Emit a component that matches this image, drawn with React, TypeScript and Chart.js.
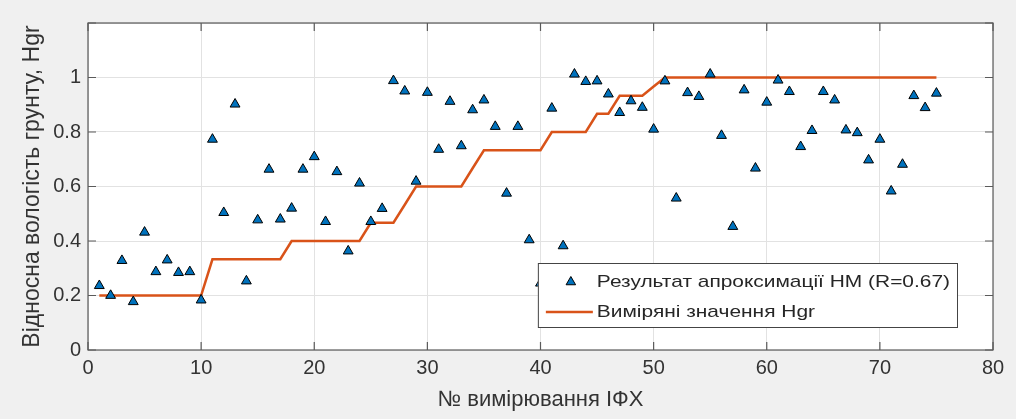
import React, { useEffect, useRef } from "react";
import { Chart, registerables } from "chart.js";

Chart.register(...registerables);

const measurementNo = [
  1, 2, 3, 4, 5, 6, 7, 8, 9, 10, 11, 12, 13, 14, 15, 16, 17, 18, 19, 20,
  21, 22, 23, 24, 25, 26, 27, 28, 29, 30, 31, 32, 33, 34, 35, 36, 37, 38, 39, 40,
  41, 42, 43, 44, 45, 46, 47, 48, 49, 50, 51, 52, 53, 54, 55, 56, 57, 58, 59, 60,
  61, 62, 63, 64, 65, 66, 67, 68, 69, 70, 71, 72, 73, 74, 75,
];

const approxNM = [
  0.236, 0.2, 0.328, 0.177, 0.432, 0.287, 0.33, 0.284, 0.287, 0.183,
  0.773, 0.504, 0.902, 0.253, 0.477, 0.663, 0.48, 0.52, 0.663, 0.709,
  0.471, 0.654, 0.363, 0.612, 0.471, 0.519, 0.988, 0.95, 0.619, 0.945,
  0.736, 0.912, 0.749, 0.881, 0.917, 0.82, 0.575, 0.82, 0.404, 0.245,
  0.887, 0.382, 1.012, 0.985, 0.987, 0.939, 0.871, 0.914, 0.89, 0.81,
  0.987, 0.557, 0.944, 0.93, 1.012, 0.787, 0.453, 0.954, 0.667, 0.909,
  0.99, 0.948, 0.746, 0.805, 0.948, 0.917, 0.807, 0.797, 0.697, 0.773,
  0.583, 0.681, 0.933, 0.889, 0.942,
];

const measuredHgr = [
  0.2, 0.2, 0.2, 0.2, 0.2, 0.2, 0.2, 0.2, 0.2, 0.2,
  0.333, 0.333, 0.333, 0.333, 0.333, 0.333, 0.333,
  0.4, 0.4, 0.4, 0.4, 0.4, 0.4, 0.4,
  0.467, 0.467, 0.467, 0.533,
  0.6, 0.6, 0.6, 0.6, 0.6, 0.667,
  0.733, 0.733, 0.733, 0.733, 0.733, 0.733,
  0.8, 0.8, 0.8, 0.8, 0.867, 0.867,
  0.933, 0.933, 0.933, 0.967,
  1, 1, 1, 1, 1, 1, 1, 1, 1, 1, 1, 1, 1, 1, 1, 1, 1, 1, 1, 1, 1, 1, 1, 1, 1,
];

const xTickValues = [0, 10, 20, 30, 40, 50, 60, 70, 80];
const yTickValues = [0, 0.2, 0.4, 0.6, 0.8, 1, 1.2];

const seriesLabels = ["Результат апроксимації НМ (R=0.67)", "Виміряні значення Hgr"];
const xTitle = "№ вимірювання ІФХ";
const yTitle = "Відносна вологість грунту, Hgr";

const FONT = '"Liberation Sans", Arial, sans-serif';
const TICK_FS = 20;
const BLUE = "#0072BD";
const ORANGE = "#D95319";
const AXIS = "#5a5a5a";
const TEXT = "#333333";

export default function App() {
  const ref = useRef<HTMLCanvasElement | null>(null);

  useEffect(() => {
    document.body.style.margin = "0";
    const canvas = ref.current;
    if (!canvas) return;

    const bgPlugin = {
      id: "bg",
      beforeDraw(chart: any) {
        const { ctx, chartArea: a } = chart;
        ctx.save();
        ctx.fillStyle = "#f0f0f0";
        ctx.fillRect(0, 0, chart.width, chart.height);
        ctx.fillStyle = "#ffffff";
        ctx.fillRect(a.left, a.top, a.right - a.left, a.bottom - a.top);
        ctx.restore();
      },
    };

    const framePlugin = {
      id: "frame",
      afterDatasetsDraw(chart: any) {
        const { ctx, chartArea: a, scales } = chart;
        ctx.save();
        ctx.strokeStyle = AXIS;
        ctx.lineWidth = 1.2;
        ctx.strokeRect(a.left, a.top, a.right - a.left, a.bottom - a.top);
        const tl = 8;
        ctx.beginPath();
        for (const v of xTickValues) {
          const px = scales.x.getPixelForValue(v);
          ctx.moveTo(px, a.bottom);
          ctx.lineTo(px, a.bottom - tl);
          ctx.moveTo(px, a.top);
          ctx.lineTo(px, a.top + tl);
        }
        for (const v of yTickValues) {
          const py = scales.y.getPixelForValue(v);
          ctx.moveTo(a.left, py);
          ctx.lineTo(a.left + tl, py);
          ctx.moveTo(a.right, py);
          ctx.lineTo(a.right - tl, py);
        }
        ctx.stroke();

        // legend
        const sx = 1.23;
        ctx.font = `17px ${FONT}`;
        const w = Math.max(...seriesLabels.map((t) => ctx.measureText(t).width)) * sx;
        const right = a.right - 36;
        const bottom = a.bottom - 23;
        const boxW = w + 59 + 7;
        const left = right - boxW;
        const top = bottom - 64;
        ctx.fillStyle = "#ffffff";
        ctx.fillRect(left, top, boxW, 64);
        ctx.strokeStyle = "#444";
        ctx.lineWidth = 1;
        ctx.strokeRect(left + 0.5, top + 0.5, boxW, 64);
        const r1 = bottom - 45;
        const r2 = bottom - 15;
        const r = 5.5;
        const mx = left + 33;
        ctx.beginPath();
        ctx.moveTo(mx, r1 - r);
        ctx.lineTo(mx + r * Math.sin((2 * Math.PI) / 3), r1 + r / 2);
        ctx.lineTo(mx - r * Math.sin((2 * Math.PI) / 3), r1 + r / 2);
        ctx.closePath();
        ctx.fillStyle = BLUE;
        ctx.fill();
        ctx.strokeStyle = "#000";
        ctx.lineWidth = 1;
        ctx.stroke();
        ctx.beginPath();
        ctx.moveTo(left + 8, r2);
        ctx.lineTo(left + 55, r2);
        ctx.strokeStyle = ORANGE;
        ctx.lineWidth = 2.5;
        ctx.stroke();
        ctx.fillStyle = "#262626";
        ctx.textBaseline = "middle";
        ctx.textAlign = "left";
        const rows = [r1, r2];
        seriesLabels.forEach((t, i) => {
          ctx.save();
          ctx.translate(left + 59, rows[i]);
          ctx.scale(sx, 1);
          ctx.fillText(t, 0, 0);
          ctx.restore();
        });
        ctx.restore();
      },
    };

    const chart = new Chart(canvas, {
      data: {
        datasets: [
          {
            type: "scatter",
            label: seriesLabels[0],
            data: measurementNo.map((x, i) => ({ x, y: approxNM[i] })),
            pointStyle: "triangle",
            pointRadius: 5.7,
            pointBackgroundColor: BLUE,
            pointBorderColor: "#000",
            pointBorderWidth: 1,
          },
          {
            type: "line",
            label: seriesLabels[1],
            data: measurementNo.map((x, i) => ({ x, y: measuredHgr[i] })),
            borderColor: ORANGE,
            borderWidth: 2.5,
            pointRadius: 0,
            tension: 0,
            fill: false,
          },
        ],
      },
      options: {
        responsive: false,
        animation: false,
        devicePixelRatio: 1,
        layout: { padding: { left: 0, top: 23, right: 23, bottom: 0 } },
        plugins: { legend: { display: false }, tooltip: { enabled: false } },
        scales: {
          x: {
            type: "linear",
            min: 0,
            max: 80,
            afterFit: (s: any) => {
              s.height = 69;
            },
            afterBuildTicks: (s: any) => {
              s.ticks = xTickValues.map((v) => ({ value: v }));
            },
            grid: { color: "#e2e2e2", drawTicks: false, lineWidth: 1 },
            border: { display: false },
            ticks: {
              padding: 6,
              color: TEXT,
              font: { family: FONT, size: TICK_FS },
              maxRotation: 0,
              callback: (v: any) => String(v),
            },
            title: {
              display: true,
              text: xTitle,
              color: TEXT,
              font: { family: FONT, size: 22 },
              padding: { top: 0, bottom: 6 },
            },
          },
          y: {
            type: "linear",
            min: 0,
            max: 1.2,
            afterFit: (s: any) => {
              s.width = 88;
            },
            afterBuildTicks: (s: any) => {
              s.ticks = yTickValues.map((v) => ({ value: v }));
            },
            grid: { color: "#e2e2e2", drawTicks: false, lineWidth: 1 },
            border: { display: false },
            ticks: {
              padding: 7,
              color: TEXT,
              font: { family: FONT, size: TICK_FS },
              callback: (v: any) => {
                const n = Math.round(Number(v) * 10) / 10;
                return n > 1.05 ? "" : String(n);
              },
            },
            title: {
              display: true,
              text: yTitle,
              color: TEXT,
              font: { family: FONT, size: 23 },
              padding: { top: 19, bottom: 0 },
            },
          },
        },
      },
      plugins: [bgPlugin, framePlugin],
    } as any);

    return () => chart.destroy();
  }, []);

  return (
    <div style={{ width: 1016, height: 419 }}>
      <canvas ref={ref} width={1016} height={419} style={{ display: "block" }} />
    </div>
  );
}
